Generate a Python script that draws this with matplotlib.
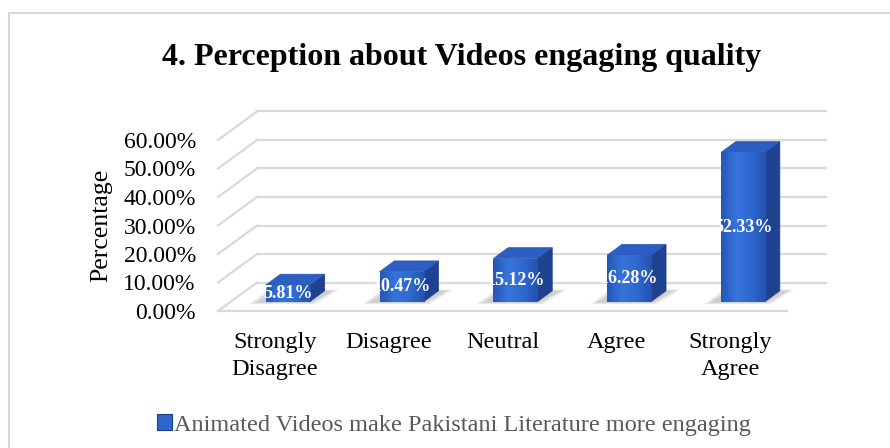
import numpy as np
import matplotlib.pyplot as plt
from matplotlib.patches import Polygon, Rectangle
from matplotlib.colors import LinearSegmentedColormap
from matplotlib.ticker import FuncFormatter

plt.rcParams['font.family'] = ['Liberation Serif', 'DejaVu Serif']

title = '4. Perception about Videos engaging quality'
categories = ['Strongly\nDisagree', 'Disagree', 'Neutral', 'Agree', 'Strongly\nAgree']
values = [5.81, 10.47, 15.12, 16.28, 52.33]
series_name = 'Animated Videos make Pakistani Literature more engaging'
y_ticks = [0, 10, 20, 30, 40, 50, 60]

W, H = 890, 448
fig = plt.figure(figsize=(W / 100, H / 100), dpi=100)
ax = fig.add_axes([218 / W, 137 / H, 569 / W, 171 / H])
ax.patch.set_visible(False)
for s in ax.spines.values():
    s.set_visible(False)

# fake 3d: full floor depth in data units, bar placement along that depth
DX, DY = 0.343, 10.0
bar_w = 0.387
d_front, d_bar = 0.33, 0.38
grid_c = '#D9D9D9'

# side wall + back wall gridlines, floor front edge
for v in y_ticks:
    ax.plot([-0.5, -0.5 + DX], [v, v + DY], color=grid_c, lw=1.6, clip_on=False, zorder=1)
    ax.plot([-0.5 + DX, 4.5 + DX], [v + DY, v + DY], color=grid_c, lw=1.6, clip_on=False, zorder=1)
ax.plot([-0.5, 4.5], [0, 0], color=grid_c, lw=1.6, clip_on=False, zorder=1)

face_cmap = LinearSegmentedColormap.from_list('face', ['#2556B6', '#3574DC', '#2F69D0', '#2452B0'])
grad = np.linspace(0, 1, 64).reshape(1, -1)

for i, v in enumerate(values):
    x0 = i - bar_w / 2 + d_front * DX
    x1 = x0 + bar_w
    y0 = d_front * DY
    y1 = y0 + v
    ox, oy = d_bar * DX, d_bar * DY

    # soft shadow on the floor
    for k in range(6):
        e = 0.012 * k
        ax.add_patch(Polygon([(x0 - 0.09 - e, y0 - 0.4 - e * 8), (x1 + e, y0 - 0.4 - e * 8),
                              (x1 + ox + 0.07 + e, y0 + oy + e * 8), (x0 + ox - 0.05 - e, y0 + oy + e * 8)],
                             closed=True, facecolor='#7F7F7F', edgecolor='none', alpha=0.07,
                             zorder=2, clip_on=False))

    side = Polygon([(x1, y0), (x1 + ox, y0 + oy), (x1 + ox, y1 + oy), (x1, y1)],
                   closed=True, facecolor='#1E4190', edgecolor='#1A3A82', lw=0.5, zorder=3, clip_on=False)
    top = Polygon([(x0, y1), (x1, y1), (x1 + ox, y1 + oy), (x0 + ox, y1 + oy)],
                  closed=True, facecolor='#2C5EC3', edgecolor='#2755B3', lw=0.5, zorder=3, clip_on=False)
    front = Rectangle((x0, y0), bar_w, v, facecolor='#2E66CE', edgecolor='none', zorder=3,
                      clip_on=False)
    ax.add_patch(side)
    ax.add_patch(top)
    ax.add_patch(front)
    img = ax.imshow(grad, extent=(x0, x1, y0, y1), aspect='auto', cmap=face_cmap,
                    zorder=4, interpolation='bilinear')
    img.set_clip_path(front)

    lbl = ax.text(x0 + bar_w / 2, y0 + v / 2, f'{v:.2f}%', ha='center', va='center',
                  color='white', fontsize=13, fontweight='bold', zorder=5)
    lbl.set_clip_path(front)

ax.set_xlim(-0.5, 4.5)
ax.set_ylim(0, 60)
ax.set_xticks(range(len(categories)))
ax.set_xticklabels(categories, fontsize=17.5, linespacing=1.4)
ax.set_yticks(y_ticks)
ax.yaxis.set_major_formatter(FuncFormatter(lambda v, p: f'{v:.2f}%'))
ax.tick_params(axis='y', length=0, pad=16, labelsize=17)
ax.tick_params(axis='x', length=0, pad=15)
ax.set_ylabel('Percentage', fontsize=18.5)
ax.yaxis.set_label_coords(-0.185, 0.5)

fig.text(462 / W, 1 - 58 / H, title, ha='center', va='center', fontsize=23, fontweight='bold')

leg = fig.legend(handles=[Rectangle((0, 0), 1, 1, facecolor='#2E66CE', edgecolor='#1D3F8E', lw=0.8)],
                 labels=[series_name], loc='center', bbox_to_anchor=(454 / W, 1 - 425 / H),
                 frameon=False, fontsize=17.5, labelcolor='#595959',
                 handlelength=0.6, handleheight=0.6, handletextpad=0.1)

# chart area border (only top and left edges fall inside the image)
fig.add_artist(Rectangle((9 / W, -0.1), 2, 1.1 - 13 / H, transform=fig.transFigure,
                         fill=False, edgecolor='#D9D9D9', lw=1.5))

fig.savefig('out.png', dpi=100, facecolor='white')
